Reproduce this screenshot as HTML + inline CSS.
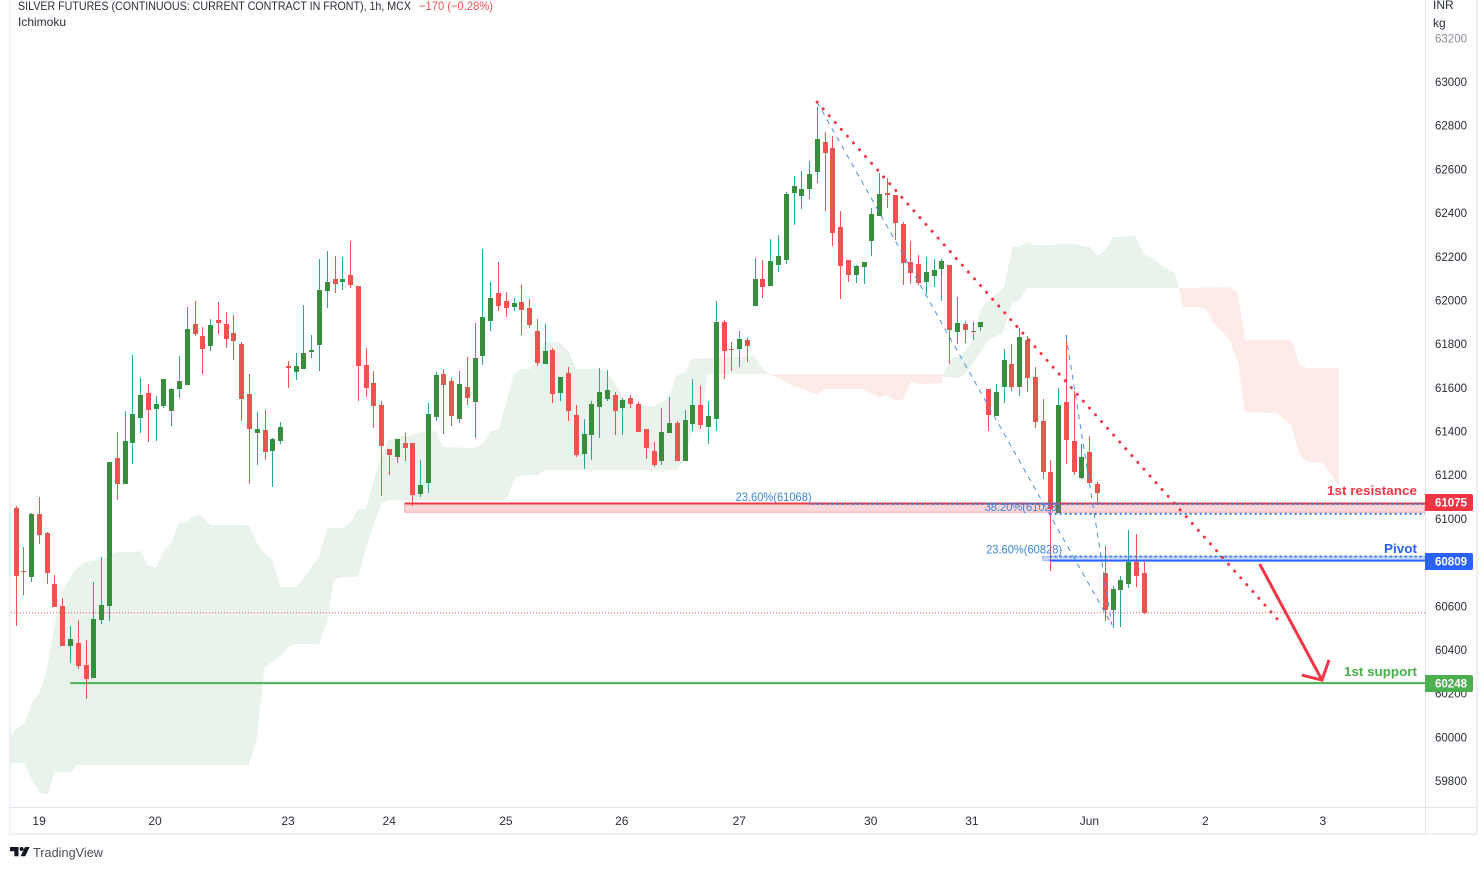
<!DOCTYPE html>
<html lang="en">
<head>
<meta charset="utf-8">
<title>Silver Futures 1h chart</title>
<style>
html,body{margin:0;padding:0;background:#fff;width:1480px;height:869px;overflow:hidden}
svg{display:block;position:absolute;left:0;top:0;font-family:"Liberation Sans",sans-serif}
text{white-space:pre}
</style>
</head>
<body>
<svg id="chart" xmlns="http://www.w3.org/2000/svg" width="1480" height="869" viewBox="0 0 1480 869">
  <rect x="0" y="0" width="1480" height="869" fill="#ffffff"/>
  <g id="clouds"></g>
  <g id="candles"></g>
  <g id="drawings"></g>
  <rect x="9" y="0" width="2" height="835" fill="#eef0f6"/>
  <rect x="1476" y="0" width="2" height="835" fill="#eef0f6"/>
  <rect x="9" y="833" width="1469" height="2" fill="#eef0f6"/>
  <rect x="11" y="807" width="1465" height="1" fill="#e0e3eb"/>
  <rect x="1425" y="0" width="1" height="834" fill="#e0e3eb"/>
  <g id="priceAxis"></g>
  <g id="timeAxis"></g>
  <g id="badges"></g>
  <text x="18" y="10" font-size="12" fill="#2a2e39" textLength="393" lengthAdjust="spacingAndGlyphs">SILVER FUTURES (CONTINUOUS: CURRENT CONTRACT IN FRONT), 1h, MCX</text>
  <text x="419" y="10" font-size="12" fill="#ef5350" textLength="74" lengthAdjust="spacingAndGlyphs">−170 (−0.28%)</text>
  <text x="18" y="26" font-size="12" fill="#2a2e39">Ichimoku</text>
  <text x="1433" y="9" font-size="12" fill="#2a2e39">INR</text>
  <text x="1433" y="27" font-size="12" fill="#2a2e39">kg</text>
  <text x="1327" y="495" font-size="13" font-weight="bold" fill="#f23645" textLength="90" lengthAdjust="spacingAndGlyphs">1st resistance</text>
  <text x="1384" y="553" font-size="13" font-weight="bold" fill="#2962ff" textLength="33" lengthAdjust="spacingAndGlyphs">Pivot</text>
  <text x="1344" y="676" font-size="13" font-weight="bold" fill="#4caf50" textLength="73" lengthAdjust="spacingAndGlyphs">1st support</text>
  <g>
    <path fill="#131722" d="M10 847h8.5v9.2h-4.2v-5h-4.3z M29.6 847l-4.4 9.2h-4.6l4.4-9.2z"/>
    <circle cx="21.6" cy="849" r="2" fill="#131722"/>
    <text x="33" y="857" font-size="13" fill="#4a4e59" textLength="70" lengthAdjust="spacingAndGlyphs">TradingView</text>
  </g>
</svg>
<script>
// ---- Candle data (INR/kg), bar order left to right ----
const opens = [
61050,60761,60735,61022,60935,60701,60601,60419,60431,60331,
60272,60538,60602,61278,61161,61348,61463,61576,61504,61518,
61495,61596,61614,61892,61837,61792,61910,61892,61851,61800,
61571,61394,61406,61312,61357,61699,61673,61687,61765,61797,
62044,62098,62085,62116,62066,61704,61622,61521,61319,61284,
61347,61347,61115,61165,61467,61663,61631,61458,61603,61536,
61747,61907,62034,61997,61971,61992,61965,61860,61710,61773,
61577,61667,61475,61298,61385,61513,61550,61567,61509,61553,
61525,61411,61310,61266,61394,61438,61266,61435,61521,61422,
61458,61901,61777,61779,61818,61976,62098,62067,62163,62186,
62493,62479,62511,62589,62725,62697,62336,62185,62117,62154,
62273,62388,62491,62482,62350,62176,62166,62085,62113,62145,
62162,61856,61892,61855,61879,61594,61472,61605,61709,61605,
61818,61649,61448,61214,61028,61535,61356,61188,61306,61159,
60752,60584,60675,60703,60802,60752];
const highs = [
61059,60871,61026,61100,60939,60743,60637,60509,60537,60445,
60711,60825,61260,61397,61493,61750,61645,61617,61562,61640,
61599,61745,61970,61997,61878,61915,61992,61947,61933,61809,
61663,61489,61498,61370,61443,61722,61759,61979,61841,62189,
62226,62203,62198,62272,62066,61782,61677,61539,61319,61365,
61393,61347,61269,61530,61672,61686,61645,61677,61741,61896,
62235,62084,62176,62038,62011,62070,62006,61915,61892,61782,
61649,61695,61521,61457,61539,61690,61681,61580,61553,61567,
61535,61411,61352,61507,61558,61448,61498,61640,61608,61539,
61997,61910,61809,61860,61828,62194,62185,62281,62299,62496,
62569,62592,62638,62885,62771,62752,62409,62185,62162,62176,
62423,62583,62560,62482,62359,62272,62208,62198,62189,62189,
62162,62015,61905,61901,61901,61594,61617,61777,61800,61873,
61837,61695,61548,61269,61599,61841,61585,61342,61379,61168,
60875,60692,60738,60949,60930,60802];
const lows = [
60511,60651,60712,60886,60703,60598,60419,60341,60314,60176,
60272,60520,60533,61087,61161,61252,61394,61353,61357,61509,
61426,61554,61614,61838,61664,61770,61847,61783,61728,61449,
61161,61248,61271,61147,61344,61600,61637,61687,61737,61678,
61966,62035,62049,62058,61541,61559,61417,61106,61202,61257,
61266,61060,61101,61119,61449,61389,61426,61440,61522,61371,
61705,61861,61953,61925,61953,61843,61875,61701,61710,61531,
61541,61449,61284,61229,61271,61371,61541,61385,61385,61509,
61399,61275,61238,61248,61394,61266,61266,61402,61412,61344,
61403,61641,61678,61696,61719,61976,62012,62067,62131,62168,
62346,62420,62465,62539,62410,62250,62008,62085,62081,62076,
62204,62388,62424,62278,62072,62076,62072,62030,62062,61998,
61710,61802,61806,61820,61861,61403,61472,61531,61586,61563,
61582,61417,61184,60762,61028,61252,61202,61184,61165,61074,
60533,60501,60506,60685,60689,60566];
const closes = [
60740,60757,61022,60927,60753,60598,60419,60450,60327,60268,
60541,60605,61260,61161,61356,61480,61567,61499,61525,61640,
61594,61631,61869,61847,61779,61887,61898,61824,61815,61550,
61412,61411,61307,61365,61420,61692,61699,61759,61773,62047,
62084,62076,62098,62072,61701,61600,61518,61335,61293,61365,
61325,61110,61155,61480,61658,61614,61472,61617,61554,61736,
61924,62011,61976,61966,61988,61957,61889,61715,61768,61573,
61649,61495,61293,61388,61525,61580,61590,61495,61544,61527,
61399,61325,61248,61397,61438,61266,61452,61521,61431,61471,
61901,61770,61773,61823,61792,62098,62062,62180,62203,62487,
62523,62510,62578,62739,62676,62310,62159,62117,62157,62176,
62395,62487,62484,62355,62172,62127,62081,62130,62139,62180,
61866,61896,61866,61860,61901,61477,61580,61727,61605,61832,
61646,61444,61216,61046,61521,61362,61216,61283,61165,61119,
60584,60679,60720,60802,60740,60570];

// ---- Axis labels ----
const priceTicks = [59800,60000,60200,60400,60600,60800,61000,61200,61400,61600,61800,62000,62200,62400,62600,62800,63000,63200];
const timeLabels = ["19","20","23","24","25","26","27","30","31","Jun","2","3"];
const timeBars = [2.9,17.8,34.9,47.9,62.9,77.8,92.9,109.8,122.8,137.9,152.8,167.9];

// ---- Ichimoku cloud outlines (bar index / price) ----
const greenCloud1TopBars = [-0.8,-0.1,1,2,3,3.9,4.7,5.3,5.8,6.9,7.9,8.9,11,11.9,12.9,15,15.9,16.9,17.9,18.8,20,20.9,21.9,22.8,23.8,24.9,29.1,29.9,30.9,31.9,32.8,33.9,35.9,36.8,38.9,39.9,42,43,43.9,44.9,45.8,46.7,47.8,49.3,50.4,51.9,53.9,54.8,58.7,60,61,62,63,63.9,65,66,66.9,67.9,69.9,70.9,71.9,75.4,76.7,78,79.2,81.8,83.1,84,84.9,85.9,86.8,94.8,95.9,96.8];
const greenCloud1TopPrices = [59996,60038,60065,60161,60207,60312,60477,60582,60665,60734,60779,60802,60816,60834,60848,60848,60853,60788,60779,60843,60898,60985,60985,61013,61017,60972,60972,60967,60889,60843,60820,60688,60688,60724,60830,60958,60958,60985,61045,61045,61164,61269,61361,61379,61379,61397,61402,61329,61324,61347,61402,61411,61544,61663,61686,61686,61727,61814,61805,61773,61686,61686,61635,61553,61525,61516,61535,61571,61663,61667,61732,61745,61690,61663];
const greenCloud1BottomBars = [-0.8,1,2,3,4,4.6,4.9,6.9,7.9,29.9,30.9,31.9,33.9,34.9,35.9,38.9,39.9,40.8,41.8,43.9,44.9,45.8,46.9,47.8,63,63.9,65,66.9,67.9,84.9,85.9,86.8,87.9,88.8,96.8];
const greenCloud1BottomPrices = [59882,59882,59804,59745,59735,59804,59841,59841,59873,59873,60001,60321,60372,60413,60427,60427,60523,60720,60734,60734,60866,60958,61072,61086,61086,61178,61200,61200,61223,61223,61274,61397,61402,61663,61663];
const redCloud1TopBars = [96.8,119.1];
const redCloud1TopPrices = [61663,61663];
const redCloud1BottomBars = [96.8,98.5,99.8,100.9,102.9,103.8,108.8,110.9,111.9,112.9,113.9,115,115.9,119,119.1];
const redCloud1BottomPrices = [61663,61635,61608,61599,61567,61594,61594,61553,61567,61544,61544,61631,61617,61622,61663];
const greenCloud2TopBars = [119.1,120.4,121.3,122.8,124,125.4,126.9,128,129,129.9,130.9,132.8,134,136,138,138.9,140,140.9,143.8,144.9,145.9,147.4,148.9,149.4];
const greenCloud2TopPrices = [61663,61741,61741,61809,61965,62015,62057,62244,62249,62267,62253,62253,62258,62258,62244,62203,62235,62290,62295,62212,62194,62153,62125,62057];
const greenCloud2BottomBars = [119.1,119.3,120.9,121.8,122.9,124.9,126.8,128,128.9,129.9,149.4];
const greenCloud2BottomPrices = [61663,61649,61645,61658,61709,61818,61851,61992,62002,62057,62057];
const redCloud2TopBars = [149.4,155.9,157,157.9,163.9,164.9,165.9,170];
const redCloud2TopPrices = [62057,62061,62034,61818,61818,61709,61690,61690];
const redCloud2BottomBars = [149.4,149.9,151.9,152.9,153.9,155,155.9,157,157.9,161.9,162.9,163.9,164.9,165.9,168,170];
const redCloud2BottomPrices = [62057,61970,61970,61960,61896,61855,61823,61713,61489,61484,61457,61425,61297,61260,61255,61146];

// ---- Price levels and drawings ----
const lastClose = 60570;
const resistanceLevel = 61075;
const resistanceBandLow = 61030;
const pivotLevel = 60809;
const pivotBandHigh = 60828;
const supportLevel = 60248;
const fibPrices = [61068,61023,60828];
const fibLineStartBars = [102.2,132.8,132.8];
const fibTextEndBars = [102.2,134.2,134.4];
const fibLabels = ["23.60%(61068)","38.20%(61023)","23.60%(60828)"];
const trendBars = [102.9,162.4];
const trendPrices = [62908,60528];
const fibLegABars = [102.9,140.8];
const fibLegAPrices = [62908,60514];
const fibLegBBars = [134.9,140.8];
const fibLegBPrices = [61841,60514];
const arrowBars = [159.8,167.8];
const arrowPrices = [60793,60262];
const arrowHeadBars = [165.2,167.8,168.7];
const arrowHeadPrices = [60285,60262,60354];

// ---- Axis functions ----
const axisRight = 1425;
function xAt(bar){return 16.5+7.78*bar;}
function yAt(price){return 82+(63000-price)*0.21844;}
function candleLeft(i){return Math.floor(16.09+7.78*i);}

const NS='http://www.w3.org/2000/svg';
function make(tag,attrs,parent){
  const el=document.createElementNS(NS,tag);
  for(const k in attrs){el.setAttribute(k,attrs[k]);}
  parent.appendChild(el);
  return el;
}
function pts(bars,prices){
  return bars.map(function(b,i){return xAt(b).toFixed(1)+','+yAt(prices[i]).toFixed(1);});
}
const GREEN_CLOUD='#eaf3eb', RED_CLOUD='#fdebea';
const clouds=document.getElementById('clouds');
const candles=document.getElementById('candles');
const drawings=document.getElementById('drawings');
const priceAxis=document.getElementById('priceAxis');
const timeAxis=document.getElementById('timeAxis');
const badges=document.getElementById('badges');

// clouds
function cloud(topB,topP,botB,botP,fill,label){
  const p=pts(topB,topP).concat(pts(botB,botP).reverse()).join(' ');
  const el=make('polygon',{points:p,fill:fill},clouds);
  
  
}
cloud(greenCloud1TopBars,greenCloud1TopPrices,greenCloud1BottomBars,greenCloud1BottomPrices,GREEN_CLOUD,'bullish-cloud-1');
cloud(redCloud1TopBars,redCloud1TopPrices,redCloud1BottomBars,redCloud1BottomPrices,RED_CLOUD,'bearish-cloud-1');
cloud(greenCloud2TopBars,greenCloud2TopPrices,greenCloud2BottomBars,greenCloud2BottomPrices,GREEN_CLOUD,'bullish-cloud-2');
cloud(redCloud2TopBars,redCloud2TopPrices,redCloud2BottomBars,redCloud2BottomPrices,RED_CLOUD,'bearish-cloud-2');

// last price line
const lastLine=make('line',{x1:11,x2:axisRight,y1:yAt(lastClose).toFixed(1),y2:yAt(lastClose).toFixed(1),stroke:'#ef5350','stroke-width':1,'stroke-dasharray':'1 2'},candles);



// candles
opens.forEach(function(o,i){
  const c=closes[i];
  const up=c>o;
  const left=candleLeft(i);
  const g=make('g',{'shape-rendering':'crispEdges'},candles);
  
  
  const hi=Math.round(yAt(highs[i]));
  const lo=Math.round(yAt(lows[i]));
  const wick=make('rect',{x:left,y:hi,width:1,height:Math.max(1,lo-hi),fill:up?'#26a69a':'#ef5350'},g);
  
  
  const top=Math.round(yAt(Math.max(o,c)));
  const bot=Math.round(yAt(Math.min(o,c)));
  const body=make('rect',{x:left-2,y:top,width:5,height:Math.max(1,bot-top),fill:up?'#388e3c':'#ef5350'},g);
  
  
});

// horizontal bands and levels
const rTop=yAt(resistanceLevel)+1;
const rBand=make('rect',{x:xAt(49.9).toFixed(1),y:rTop.toFixed(1),width:(axisRight-xAt(49.9)).toFixed(1),height:(yAt(resistanceBandLow)-rTop).toFixed(1),fill:'rgba(242,54,69,0.2)',stroke:'rgba(242,54,69,0.35)','stroke-width':1},drawings);


const pBand=make('rect',{x:xAt(131.9).toFixed(1),y:yAt(pivotBandHigh).toFixed(1),width:(axisRight-xAt(131.9)).toFixed(1),height:(yAt(pivotLevel)-yAt(pivotBandHigh)).toFixed(1),fill:'rgba(41,98,255,0.25)',stroke:'rgba(41,98,255,0.35)','stroke-width':1},drawings);



const rLine=make('line',{x1:xAt(49.9).toFixed(1),x2:axisRight,y1:rTop.toFixed(1),y2:rTop.toFixed(1),stroke:'#f23645','stroke-width':2},drawings);


const pLine=make('line',{x1:xAt(132.8).toFixed(1),x2:axisRight,y1:yAt(pivotLevel).toFixed(1),y2:yAt(pivotLevel).toFixed(1),stroke:'#2962ff','stroke-width':2},drawings);


const sLine=make('line',{x1:xAt(6.9).toFixed(1),x2:axisRight,y1:yAt(supportLevel).toFixed(1),y2:yAt(supportLevel).toFixed(1),stroke:'#4caf50','stroke-width':2},drawings);



// fib dotted levels and their labels
fibPrices.forEach(function(p,i){
  const yy=yAt(p).toFixed(1);
  const l=make('line',{x1:xAt(fibLineStartBars[i]).toFixed(1),x2:axisRight,y1:yy,y2:yy,stroke:'#2e7dd8','stroke-width':2,'stroke-dasharray':'2 3'},drawings);
  
  
  const t=make('text',{x:(xAt(fibTextEndBars[i])-76).toFixed(1),y:(yAt(p)-3).toFixed(1),'font-size':12,fill:'#3d85d8',textLength:76,lengthAdjust:'spacingAndGlyphs'},drawings);
  t.textContent=fibLabels[i];
  
  
});

// fib legs
const legA=pts(fibLegABars,fibLegAPrices).map(function(s){return s.split(',');});
const legAEl=make('line',{x1:legA[0][0],y1:legA[0][1],x2:legA[1][0],y2:legA[1][1],stroke:'#4a90e2','stroke-width':1,'stroke-dasharray':'5 5'},drawings);


const legB=pts(fibLegBBars,fibLegBPrices).map(function(s){return s.split(',');});
const legBEl=make('line',{x1:legB[0][0],y1:legB[0][1],x2:legB[1][0],y2:legB[1][1],stroke:'#4a90e2','stroke-width':1,'stroke-dasharray':'5 5'},drawings);



// dotted trend line
const tr=pts(trendBars,trendPrices).map(function(s){return s.split(',');});
const trendEl=make('line',{x1:tr[0][0],y1:tr[0][1],x2:tr[1][0],y2:tr[1][1],stroke:'#f23645','stroke-width':3,'stroke-linecap':'round','stroke-dasharray':'0.1 9'},drawings);



// forecast arrow
const arrowEl=make('polyline',{points:pts(arrowBars,arrowPrices).join(' '),fill:'none',stroke:'#f23645','stroke-width':3},drawings);


const headEl=make('polyline',{points:pts(arrowHeadBars,arrowHeadPrices).join(' '),fill:'none',stroke:'#f23645','stroke-width':3},drawings);



// price axis
priceTicks.forEach(function(p){
  const t=make('text',{x:1435,y:(yAt(p)+4).toFixed(1),'font-size':12,fill:p===63200?'#8a8d96':'#2a2e39',textLength:32,lengthAdjust:'spacingAndGlyphs'},priceAxis);
  t.textContent=String(p);
  
  
});

// time axis
timeLabels.forEach(function(label,i){
  const t=make('text',{x:xAt(timeBars[i]).toFixed(1),y:825,'font-size':12,fill:'#2a2e39','text-anchor':'middle'},timeAxis);
  t.textContent=label;
  
  
});

// level badges
function badge(price,color,label){
  const yy=Math.round(yAt(price))+0.5;
  const r=make('path',{d:'M1425 '+(yy-8.5)+'h46a2 2 0 0 1 2 2v13a2 2 0 0 1 -2 2h-46z',fill:color},badges);
  
  
  const t=make('text',{x:1435,y:yy+4,'font-size':12,'font-weight':'bold',fill:'#ffffff',textLength:32,lengthAdjust:'spacingAndGlyphs'},badges);
  t.textContent=String(price);
  
  
}
badge(resistanceLevel,'#f23645','resistance');
badge(pivotLevel,'#2962ff','pivot');
badge(supportLevel,'#4caf50','support');
</script>
</body>
</html>
